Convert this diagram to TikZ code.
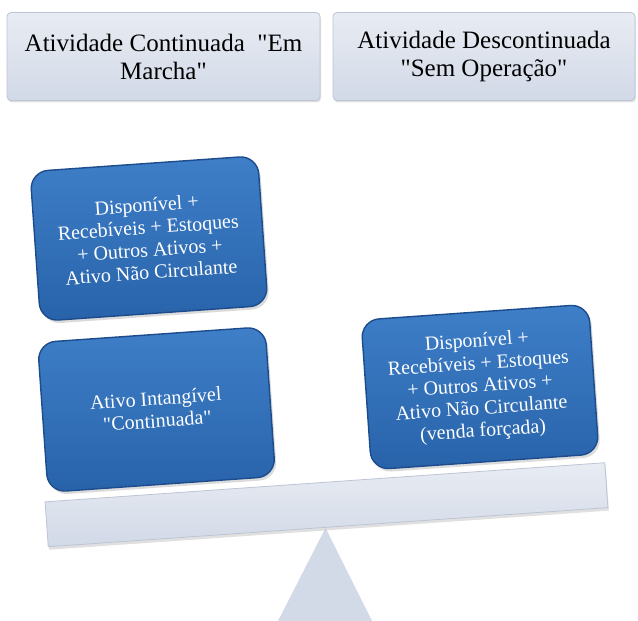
\documentclass[tikz,border=0pt]{standalone}
\usepackage{fontspec}
\setmainfont{Liberation Serif}
\usetikzlibrary{shadows}

\definecolor{paleblue}{RGB}{210,217,231}
\definecolor{palebluetop}{RGB}{232,236,243}
\definecolor{paleedge}{RGB}{188,196,213}
\definecolor{boxblue}{RGB}{40,99,170}
\definecolor{boxbluetop}{RGB}{62,127,200}
\definecolor{boxedge}{RGB}{28,76,140}

\newcommand{\qt}{\textquotedbl}

\tikzset{
  headbox/.style={rectangle, rounded corners=4pt, draw=paleedge, line width=0.8pt,
    top color=palebluetop, bottom color=paleblue, minimum width=#1, minimum height=88pt,
    align=center, text=black, font=\fontsize{25}{28}\selectfont,
    drop shadow={shadow xshift=1pt, shadow yshift=-2pt, fill=black!30, opacity=0.4}},
  assetbox/.style={rectangle, rounded corners=18pt, draw=boxedge, line width=1.4pt,
    top color=boxbluetop, bottom color=boxblue, minimum width=228pt, minimum height=150pt,
    align=center, text=white, font=\fontsize{20}{22.5}\selectfont, rotate=4,
    drop shadow={shadow xshift=2pt, shadow yshift=-3pt, fill=black!35, opacity=0.4}},
  beambar/.style={rectangle, draw=paleedge, line width=0.8pt,
    top color=palebluetop, bottom color=paleblue, minimum width=561pt, minimum height=45pt,
    rotate=4, drop shadow={shadow xshift=1pt, shadow yshift=-3pt, fill=black!30, opacity=0.4}}
}

\begin{document}
\begin{tikzpicture}[x=1pt, y=1pt]
    \useasboundingbox (0,0) rectangle (638,621);

    % Headings
    \node[headbox=313pt] (going) at (163.5,564.5) {Atividade Continuada\ \ \qt Em\\Marcha\qt};
    \node[headbox=302pt] (stopped) at (484,564.5) {Atividade Descontinuada\\\qt Sem Operação\qt};

    % Fulcrum
    \coordinate (apex) at (326,94);
    \fill[paleblue] (apex) -- (373,0) -- (278,0) -- cycle;
    \draw[white, line width=1.5pt] (apex) -- (373,0);

    % Beam (tilted towards the left)
    \node[beambar] (beam) at (326.5,116.25) {};

    % Left pan
    \node[assetbox] (intang) at (156.5,211.5) {Ativo Intangível\\\qt Continuada\qt};
    \node[assetbox] (assetsleft) at (149,382.5)
        {Disponível +\\Recebíveis + Estoques\\+ Outros Ativos +\\Ativo Não Circulante};

    % Right pan
    \node[assetbox] (assetsright) at (480,234)
        {Disponível +\\Recebíveis + Estoques\\+ Outros Ativos +\\Ativo Não Circulante\\(venda forçada)};
\end{tikzpicture}
\end{document}
